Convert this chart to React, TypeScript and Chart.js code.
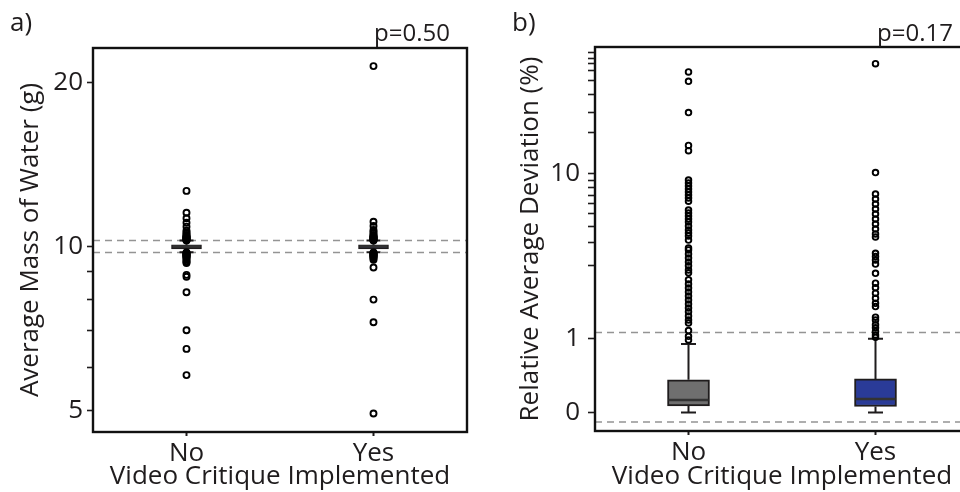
import React, { useEffect, useRef } from 'react';
import { Chart, registerables, LinearScale } from 'chart.js';

Chart.register(...registerables);

// ---------------- data ----------------
const categories = ['No', 'Yes'];

// Panel a: Average Mass of Water (g), log axis
const massQ1 = [9.9, 9.9];
const massMedian = [10.0, 10.0];
const massQ3 = [10.07, 10.07];
const massWhiskerLow = [9.76, 9.76];
const massWhiskerHigh = [10.25, 10.25];
const massOutliersNo = [12.64, 11.53, 11.26, 11.05, 10.87, 10.69, 10.62, 10.56, 10.5, 10.45, 10.43, 10.41, 10.39, 10.37, 10.35, 10.33, 10.31, 10.29, 10.27, 10.25,
  9.75, 9.73, 9.71, 9.69, 9.67, 9.65, 9.63, 9.61, 9.59, 9.57, 9.55, 9.5, 9.45, 9.4, 9.36, 9.32, 8.87, 8.8, 8.24, 7.02, 6.49, 5.81];
const massOutliersYes = [21.4, 11.1, 10.9, 10.72, 10.64, 10.57, 10.5, 10.45, 10.43, 10.41, 10.39, 10.37, 10.35, 10.33, 10.31, 10.29, 10.27, 10.25,
  9.75, 9.73, 9.71, 9.69, 9.67, 9.65, 9.63, 9.61, 9.59, 9.57, 9.55, 9.5, 9.45, 9.15, 7.99, 7.26, 4.94];
const massRefLines = [9.75, 10.25];
const massTicks = [5, 6, 7, 8, 9, 10, 20];
const massTickLabels = [5, 10, 20];
const massPValue = 'p=0.50';

// Panel b: Relative Average Deviation (%), pseudo-log axis
const radQ1 = [0.06, 0.055];
const radMedian = [0.12, 0.13];
const radQ3 = [0.35, 0.36];
const radWhiskerLow = [0, 0];
const radWhiskerHigh = [0.9, 1.0];
const radOutliersNo = [31.4, 28.3, 20.0, 13.8, 13.0, 9.25, 8.93, 8.62, 8.32, 8.03, 7.75, 7.48, 7.21, 6.47, 6.24, 6.02, 5.8, 5.59, 5.32, 5.06, 4.88, 4.7, 4.46, 4.03, 3.93, 3.73, 3.53, 3.35, 3.18, 3.01, 2.89, 2.62, 2.47, 2.33, 2.2, 2.07, 1.95, 1.83, 1.72, 1.62, 1.51, 1.41, 1.34, 1.17, 1.05, 0.98];
const radOutliersYes = [34.4, 10.1, 7.85, 7.39, 6.96, 6.56, 6.17, 5.8, 5.46, 5.13, 4.82, 4.64, 3.76, 3.6, 3.44, 3.26, 2.87, 2.5, 2.34, 2.16, 2.0, 1.85, 1.76, 1.48, 1.41, 1.3, 1.23, 1.15, 1.08, 1.03];
const radRefLines = [-0.08, 1.13];
const radTicks = [0, 1, 3.2, 4.3, 5.3, 6.2, 7.05, 7.75, 8.45, 9.25, 10, 15.9, 19.9, 24.5, 28.6, 32.0, 34.5, 36.5, 38.7];
const radTickLabels = [0, 1, 10];
const radPValue = 'p=0.17';

const boxColorsMass = ['#3a3a3a', '#2a3b98'];
const boxColorsRad = ['#6f6f6f', '#2a3b98'];

// ---------------- pseudo-log scale ----------------
const PSEUDO_LOG_OFFSET = 0.83;
const T = (v: number) => Math.log10(v + PSEUDO_LOG_OFFSET);
const Tinv = (t: number) => Math.pow(10, t) - PSEUDO_LOG_OFFSET;

class PseudoLogScale extends (LinearScale as any) {
  static id = 'pseudoLog';
  static defaults = (LinearScale as any).defaults;
  configure() {
    super.configure();
    (this as any)._tMin = T((this as any).min);
    (this as any)._tRange = T((this as any).max) - (this as any)._tMin;
  }
  getPixelForValue(value: number) {
    if (value === null || value === undefined || isNaN(value)) return NaN;
    const s: any = this;
    return s.getPixelForDecimal((T(value) - s._tMin) / s._tRange);
  }
  getValueForPixel(pixel: number) {
    const s: any = this;
    return Tinv(s._tMin + s.getDecimalForPixel(pixel) * s._tRange);
  }
}
Chart.register(PseudoLogScale as any);

const FONT = "'Open Sans', 'DejaVu Sans', sans-serif";
const INK = '#1f1c1d';
const FS = 26;

interface PanelCfg {
  letter: string;
  pValue: string;
  q1: number[]; med: number[]; q3: number[]; lo: number[]; hi: number[];
  refLines: number[];
  capWidth: number;
  pRightInset: number;
}

function makeBoxPlugin(cfg: PanelCfg) {
  return {
    id: 'boxParts',
    beforeDatasetsDraw(chart: any) {
      const { ctx, chartArea: a } = chart;
      const x = chart.scales.x;
      const y = chart.scales.y;
      ctx.save();
      ctx.strokeStyle = '#949494';
      ctx.lineWidth = 1.5;
      ctx.setLineDash([7, 5]);
      cfg.refLines.forEach((v) => {
        const py = y.getPixelForValue(v);
        ctx.beginPath();
        ctx.moveTo(a.left, py);
        ctx.lineTo(a.right, py);
        ctx.stroke();
      });
      ctx.setLineDash([]);
      ctx.strokeStyle = INK;
      ctx.lineWidth = 2;
      categories.forEach((_, i) => {
        const px = x.getPixelForValue(i);
        const yq1 = y.getPixelForValue(cfg.q1[i]);
        const yq3 = y.getPixelForValue(cfg.q3[i]);
        const ylo = y.getPixelForValue(cfg.lo[i]);
        const yhi = y.getPixelForValue(cfg.hi[i]);
        ctx.beginPath();
        ctx.moveTo(px, yq3); ctx.lineTo(px, yhi);
        ctx.moveTo(px, yq1); ctx.lineTo(px, ylo);
        ctx.moveTo(px - cfg.capWidth / 2, yhi); ctx.lineTo(px + cfg.capWidth / 2, yhi);
        ctx.moveTo(px - cfg.capWidth / 2, ylo); ctx.lineTo(px + cfg.capWidth / 2, ylo);
        ctx.stroke();
      });
      ctx.restore();
    },
    afterDatasetDraw(chart: any, args: any) {
      if (args.index !== 0) return;
      const { ctx } = chart;
      const y = chart.scales.y;
      const meta = chart.getDatasetMeta(0);
      ctx.save();
      ctx.strokeStyle = '#333333';
      ctx.lineWidth = 2.5;
      meta.data.forEach((bar: any, i: number) => {
        const half = bar.width / 2 - 1;
        const py = y.getPixelForValue(cfg.med[i]);
        ctx.beginPath();
        ctx.moveTo(bar.x - half, py);
        ctx.lineTo(bar.x + half, py);
        ctx.stroke();
      });
      ctx.restore();
    },
    afterDraw(chart: any) {
      const { ctx, chartArea: a } = chart;
      ctx.save();
      ctx.strokeStyle = '#111';
      ctx.lineWidth = 2.4;
      ctx.strokeRect(a.left, a.top, a.right - a.left, a.bottom - a.top);
      ctx.fillStyle = INK;
      ctx.font = `${FS}px ${FONT}`;
      ctx.textBaseline = 'alphabetic';
      ctx.textAlign = 'left';
      ctx.fillText(cfg.letter, a.left - 83, 31);
      ctx.textAlign = 'right';
      ctx.font = `24px ${FONT}`;
      ctx.fillText(cfg.pValue, a.right - cfg.pRightInset, 41);
      ctx.restore();
    },
  };
}

function outlierData(no: number[], yes: number[]) {
  return [
    ...no.map((v) => ({ x: 'No', y: v })),
    ...yes.map((v) => ({ x: 'Yes', y: v })),
  ];
}

function buildConfig(panel: 'a' | 'b'): any {
  const isA = panel === 'a';
  const cfg: PanelCfg = isA
    ? { letter: 'a)', pValue: massPValue, q1: massQ1, med: massMedian, q3: massQ3, lo: massWhiskerLow, hi: massWhiskerHigh, refLines: massRefLines, capWidth: 14, pRightInset: 17 }
    : { letter: 'b)', pValue: radPValue, q1: radQ1, med: radMedian, q3: radQ3, lo: radWhiskerLow, hi: radWhiskerHigh, refLines: radRefLines, capWidth: 15, pRightInset: 16 };
  const ticks = isA ? massTicks : radTicks;
  const labels = isA ? massTickLabels : radTickLabels;
  return {
    type: 'bar',
    data: {
      labels: categories,
      datasets: [
        {
          type: 'bar',
          data: categories.map((_, i) => [cfg.q1[i], cfg.q3[i]]),
          backgroundColor: isA ? boxColorsMass : boxColorsRad,
          borderColor: INK,
          borderWidth: 2,
          borderSkipped: false,
          barThickness: isA ? 30 : 42,
          order: 2,
        },
        {
          type: 'scatter',
          data: isA ? outlierData(massOutliersNo, massOutliersYes) : outlierData(radOutliersNo, radOutliersYes),
          pointRadius: isA ? 3 : 2.8,
          pointBorderWidth: 1.9,
          pointBorderColor: '#000',
          pointBackgroundColor: 'rgba(255,255,255,0)',
          showLine: false,
          order: 1,
        },
      ],
    },
    options: {
      animation: false,
      responsive: false,
      events: [],
      layout: { padding: isA ? { top: 48, right: 13, left: 0, bottom: 0 } : { top: 47, right: 11, left: 0, bottom: 0 } },
      plugins: { legend: { display: false }, tooltip: { enabled: false }, title: { display: false } },
      scales: {
        x: {
          type: 'category',
          offset: true,
          grid: { display: true, drawOnChartArea: false, drawTicks: true, tickLength: 4, tickColor: INK, tickWidth: 2, offset: false },
          border: { display: false },
          ticks: { color: INK, font: { family: FONT, size: FS }, padding: 2 },
          title: { display: true, text: 'Video Critique Implemented', color: INK, font: { family: FONT, size: FS }, padding: { top: 0, bottom: 0 } },
          afterFit: (s: any) => { s.height = isA ? 60 : 61; },
        },
        y: {
          type: isA ? 'logarithmic' : 'pseudoLog',
          min: isA ? 4.57 : -0.15,
          max: isA ? 23.1 : 41.3,
          bounds: 'data',
          grid: { display: true, drawOnChartArea: false, drawTicks: true, tickLength: isA ? 6 : 7, tickColor: INK, tickWidth: 1.6 },
          border: { display: false },
          afterBuildTicks: (s: any) => { s.ticks = ticks.map((v) => ({ value: v })); },
          ticks: {
            autoSkip: false,
            color: INK,
            font: { family: FONT, size: FS },
            padding: isA ? 4 : 8,
            callback: (v: any) => (labels.includes(Number(v)) ? String(v) : ''),
          },
          title: {
            display: true,
            text: isA ? 'Average Mass of Water (g)' : 'Relative Average Deviation (%)',
            color: INK,
            font: { family: FONT, size: FS },
            padding: { top: isA ? 15 : 35, bottom: 0 },
          },
          afterFit: (s: any) => { s.width = isA ? 93 : 115; },
        },
      },
    },
    plugins: [makeBoxPlugin(cfg)],
  };
}

function Panel({ panel, width }: { panel: 'a' | 'b'; width: number }) {
  const ref = useRef<HTMLCanvasElement>(null);
  useEffect(() => {
    if (!ref.current) return;
    const chart = new Chart(ref.current, buildConfig(panel));
    return () => chart.destroy();
  }, [panel]);
  return <canvas ref={ref} width={width} height={492} style={{ width, height: 492, display: 'block' }} />;
}

export default function App() {
  return (
    <div style={{ position: 'fixed', left: 0, top: 0, width: 960, height: 492, overflow: 'hidden', background: '#fff' }}>
      <div style={{ position: 'absolute', left: 0, top: 0, width: 480, height: 492 }}>
        <Panel panel="a" width={480} />
      </div>
      <div style={{ position: 'absolute', left: 480, top: 0, width: 500, height: 492 }}>
        <Panel panel="b" width={500} />
      </div>
    </div>
  );
}
